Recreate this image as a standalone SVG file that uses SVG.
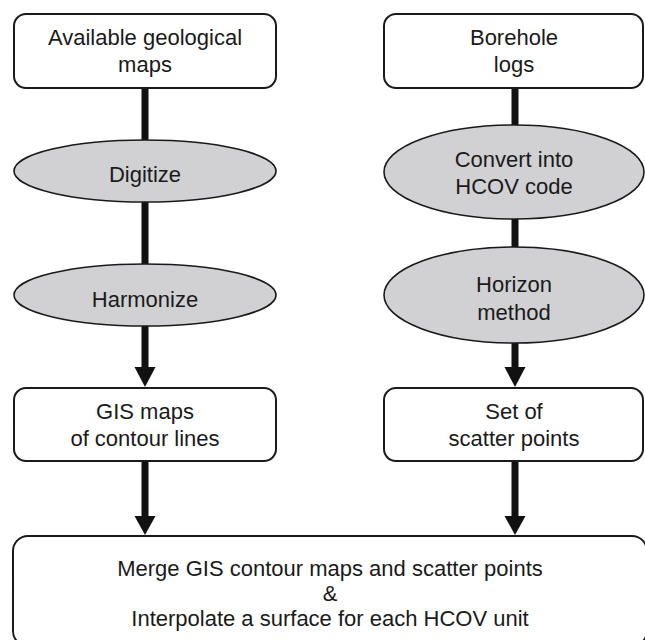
<svg xmlns="http://www.w3.org/2000/svg" width="645" height="640" viewBox="0 0 645 640">
<defs>
<style>
.box{fill:#fff;stroke:#1a1a1a;stroke-width:2}
.ell{fill:#d1d1d3;stroke:#1a1a1a;stroke-width:1.6}
.t{font-family:"Liberation Sans",Arial,sans-serif;font-size:22px;fill:#1a1a1a;text-anchor:middle}
.ln{stroke:#111;stroke-width:7;fill:none}
.ah{fill:#111}
</style>
</defs>
<rect width="645" height="640" fill="#fff"/>
<g id="connectors">
<line class="ln" x1="145" y1="88" x2="145" y2="140"/>
<line class="ln" x1="145" y1="202" x2="145" y2="264"/>
<line class="ln" x1="145" y1="326" x2="145" y2="368"/>
<polygon class="ah" points="134.5,367 155.5,367 145,387"/>
<line class="ln" x1="145" y1="461" x2="145" y2="517"/>
<polygon class="ah" points="134.5,516 155.5,516 145,535"/>
<line class="ln" x1="515" y1="88" x2="515" y2="125"/>
<line class="ln" x1="515" y1="219" x2="515" y2="247"/>
<line class="ln" x1="515" y1="343" x2="515" y2="368"/>
<polygon class="ah" points="504.5,367 525.5,367 515,387"/>
<line class="ln" x1="515" y1="461" x2="515" y2="517"/>
<polygon class="ah" points="504.5,516 525.5,516 515,535"/>
</g>
<g id="n1"><rect class="box" x="14" y="14" width="262" height="74" rx="12"/>
<text class="t" x="145" y="45">Available geological</text><text class="t" x="145" y="72">maps</text></g>
<g id="n2"><rect class="box" x="384" y="14" width="259" height="74" rx="12"/>
<text class="t" x="514" y="45">Borehole</text><text class="t" x="514" y="72">logs</text></g>
<g id="n3"><ellipse class="ell" cx="145" cy="171" rx="131" ry="31"/>
<text class="t" x="145" y="182">Digitize</text></g>
<g id="n4"><ellipse class="ell" cx="145" cy="295" rx="131" ry="31"/>
<text class="t" x="145" y="307">Harmonize</text></g>
<g id="n5"><ellipse class="ell" cx="514" cy="172" rx="130" ry="47"/>
<text class="t" x="514" y="167">Convert into</text><text class="t" x="514" y="194">HCOV code</text></g>
<g id="n6"><ellipse class="ell" cx="514" cy="295" rx="130" ry="48"/>
<text class="t" x="514" y="292">Horizon</text><text class="t" x="514" y="320">method</text></g>
<g id="n7"><rect class="box" x="14" y="388" width="262" height="73" rx="12"/>
<text class="t" x="145" y="419">GIS maps</text><text class="t" x="145" y="446">of contour lines</text></g>
<g id="n8"><rect class="box" x="384" y="388" width="259" height="73" rx="12"/>
<text class="t" x="514" y="419">Set of</text><text class="t" x="514" y="446">scatter points</text></g>
<g id="n9"><rect class="box" x="13" y="536" width="634" height="110" rx="15"/>
<text class="t" x="330" y="576">Merge GIS contour maps and scatter points</text>
<text class="t" x="330" y="601">&amp;</text>
<text class="t" x="330" y="626">Interpolate a surface for each HCOV unit</text></g>
</svg>
